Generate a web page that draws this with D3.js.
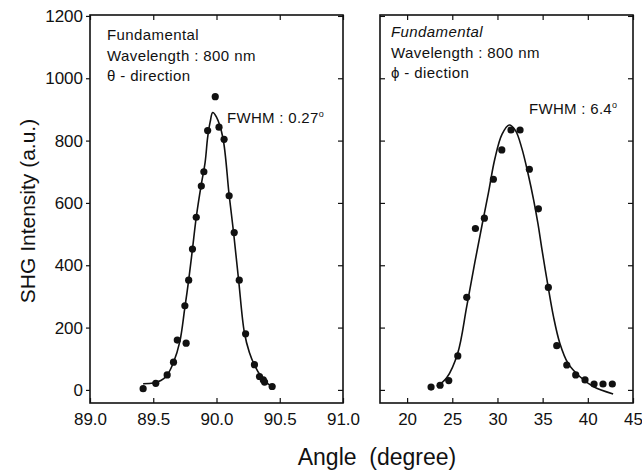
<!DOCTYPE html>
<html>
<head>
<meta charset="utf-8">
<script src="https://cdn.jsdelivr.net/npm/d3@7"></script>
<style>
  body { margin: 0; background: #fff; }
  svg { display: block; font-family: "Liberation Sans", Arial, sans-serif; }
</style>
</head>
<body>
<div id="chart"></div>
<script>
// theta-direction scan (left panel)
const thetaAngle = [89.42, 89.52, 89.61, 89.66, 89.69, 89.76, 89.75, 89.78, 89.81, 89.84, 89.88, 89.90, 89.93, 89.99, 90.02, 90.06, 90.10, 90.14, 90.18, 90.23, 90.30, 90.34, 90.37, 90.38, 90.44]
const thetaShg   = [4, 21, 48, 89, 160, 150, 270, 352, 452, 554, 654, 700, 832, 941, 843, 804, 623, 505, 352, 180, 81, 43, 32, 25, 11]
const thetaFitAngle = [89.42, 89.50, 89.56, 89.61, 89.66, 89.71, 89.75, 89.78, 89.81, 89.84, 89.88, 89.91, 89.93, 89.95, 89.97, 90.00, 90.05, 90.10, 90.135, 90.175, 90.22, 90.26, 90.30, 90.35, 90.40, 90.43]
const thetaFitShg   = [20, 22, 30, 48, 88, 155, 265, 352, 452, 554, 660, 730, 810, 860, 890, 875, 810, 625, 505, 352, 185, 120, 80, 45, 22, 14]

// phi-direction scan (right panel)
const phiAngle = [22.65, 23.65, 24.61, 25.61, 26.60, 27.56, 28.55, 29.55, 30.48, 31.5, 32.5, 33.53, 34.53, 35.63, 36.56, 37.67, 38.66, 39.69, 40.69, 41.68, 42.71]
const phiShg   = [9, 15, 30, 109, 297, 518, 551, 676, 770, 834, 834, 708, 581, 329, 142, 80, 48, 32, 19, 19, 19]
const phiFitAngle = [23.3, 24.4, 25.6, 26.6, 27.5, 28.3, 29.0, 29.7, 30.5, 31.3, 32.0, 32.7, 33.4, 34.0, 34.5, 34.9, 35.6, 36.2, 36.9, 37.8, 39.1, 40.6, 42.8]
const phiFitShg   = [11, 40, 118, 268, 410, 530, 632, 740, 820, 850, 832, 775, 692, 610, 530, 455, 332, 235, 150, 86, 43, 11, -13]

const thetaTicks = [89.0, 89.5, 90.0, 90.5, 91.0]
const phiTicks = [20, 25, 30, 35, 40, 45]
const shgTicks = [0, 200, 400, 600, 800, 1000, 1200]

const WIDTH = 642, HEIGHT = 473
const TOP = 15, BOTTOM = 403

const svg = d3.select("#chart").append("svg")
  .attr("width", WIDTH)
  .attr("height", HEIGHT)

const y = d3.scaleLinear().domain([-42, 1203]).range([BOTTOM, TOP])
const xTheta = d3.scaleLinear().domain([89, 91]).range([90, 343])
const xPhi = d3.scaleLinear().domain([17, 45]).range([380, 633])

const yMinor = d3.range(100, 1201, 200)

function drawPanel(x, majors, minors, fmt, withYLabels) {
  const g = svg.append("g")
  const [x0, x1] = x.range()

  // bottom axis, ticks inward
  const bot = g.append("g").attr("transform", `translate(0,${BOTTOM})`)
  bot.call(d3.axisBottom(x).tickValues(minors).tickSize(-3).tickFormat(""))
  bot.call(d3.axisBottom(x).tickValues(majors).tickSize(-5).tickPadding(10).tickFormat(fmt))
  // top axis
  const top = g.append("g").attr("transform", `translate(0,${TOP})`)
  top.call(d3.axisTop(x).tickValues(minors).tickSize(-3).tickFormat(""))
  top.call(d3.axisTop(x).tickValues(majors).tickSize(-5).tickFormat(""))

  // left axis
  const left = g.append("g").attr("transform", `translate(${x0},0)`)
  left.call(d3.axisLeft(y).tickValues(yMinor).tickSize(-3).tickFormat(""))
  if (withYLabels) {
    left.call(d3.axisLeft(y).tickValues(shgTicks).tickSize(4).tickPadding(3).tickFormat(d3.format("d")))
  } else {
    left.call(d3.axisLeft(y).tickValues(shgTicks).tickSize(-5).tickFormat(""))
  }
  // right axis
  const right = g.append("g").attr("transform", `translate(${x1},0)`)
  right.call(d3.axisRight(y).tickValues(yMinor).tickSize(-3).tickFormat(""))
  right.call(d3.axisRight(y).tickValues(shgTicks).tickSize(-5).tickFormat(""))

  g.selectAll(".domain").remove()
  g.selectAll(".tick line").attr("stroke", "#111").attr("stroke-width", 1.2)
  g.selectAll(".tick text")
    .attr("font-family", "'Liberation Sans', Arial, sans-serif")
    .attr("font-size", 17)
    .attr("fill", "#111")

  // frame
  g.append("rect")
    .attr("x", x0).attr("y", TOP)
    .attr("width", x1 - x0).attr("height", BOTTOM - TOP)
    .attr("fill", "none")
    .attr("stroke", "#111")
    .attr("stroke-width", 1.6)
  return g
}

const gL = drawPanel(xTheta, thetaTicks, d3.range(89, 91.001, 0.1), d3.format(".1f"), true)
const gR = drawPanel(xPhi, phiTicks, d3.range(17, 45.001, 1), d3.format("d"), false)

const line = d3.line().curve(d3.curveCatmullRom.alpha(0.5))

function drawData(g, x, ax, ay, fx, fy) {
  g.append("path")
    .datum(fx.map((v, i) => [x(v), y(fy[i])]))
    .attr("d", line)
    .attr("fill", "none")
    .attr("stroke", "#111")
    .attr("stroke-width", 1.6)
  g.selectAll("circle.pt")
    .data(ax.map((v, i) => [v, ay[i]]))
    .join("circle")
    .attr("class", "pt")
    .attr("cx", d => x(d[0]))
    .attr("cy", d => y(d[1]))
    .attr("r", 3.6)
    .attr("fill", "#111")
}

drawData(gL, xTheta, thetaAngle, thetaShg, thetaFitAngle, thetaFitShg)
drawData(gR, xPhi, phiAngle, phiShg, phiFitAngle, phiFitShg)

function note(g, xPos, yPos, lines) {
  lines.forEach((l, i) => {
    g.append("text")
      .attr("x", xPos)
      .attr("y", yPos + i * 20.5)
      .attr("font-size", 15)
      .attr("letter-spacing", 0.4)
      .attr("font-style", l.italic ? "italic" : "normal")
      .attr("fill", "#111")
      .text(l.t)
  })
}

note(gL, 107, 40, [
  { t: "Fundamental" },
  { t: "Wavelength : 800 nm" },
  { t: "\u03B8 - direction" }
])
note(gR, 391, 37, [
  { t: "Fundamental", italic: true },
  { t: "Wavelength : 800 nm" },
  { t: "\u03D5 - diection" }
])

function fwhm(g, xPos, yPos, val) {
  const t = g.append("text")
    .attr("x", xPos).attr("y", yPos)
    .attr("font-size", 15)
    .attr("letter-spacing", 0.3)
    .attr("fill", "#111")
  t.append("tspan").text("FWHM : " + val)
  t.append("tspan").attr("dy", -6).attr("font-size", 9).text("o")
}
fwhm(gL, 227, 123, "0.27")
fwhm(gR, 529, 114, "6.4")

// axis titles
svg.append("text")
  .attr("transform", "translate(35,211) rotate(-90)")
  .attr("text-anchor", "middle")
  .attr("font-size", 21)
  .attr("fill", "#111")
  .text("SHG Intensity (a.u.)")

svg.append("text")
  .attr("x", 377)
  .attr("y", 465)
  .attr("text-anchor", "middle")
  .attr("font-size", 23)
  .attr("fill", "#111")
  .attr("xml:space", "preserve")
  .text("Angle  (degree)")
</script>
</body>
</html>
